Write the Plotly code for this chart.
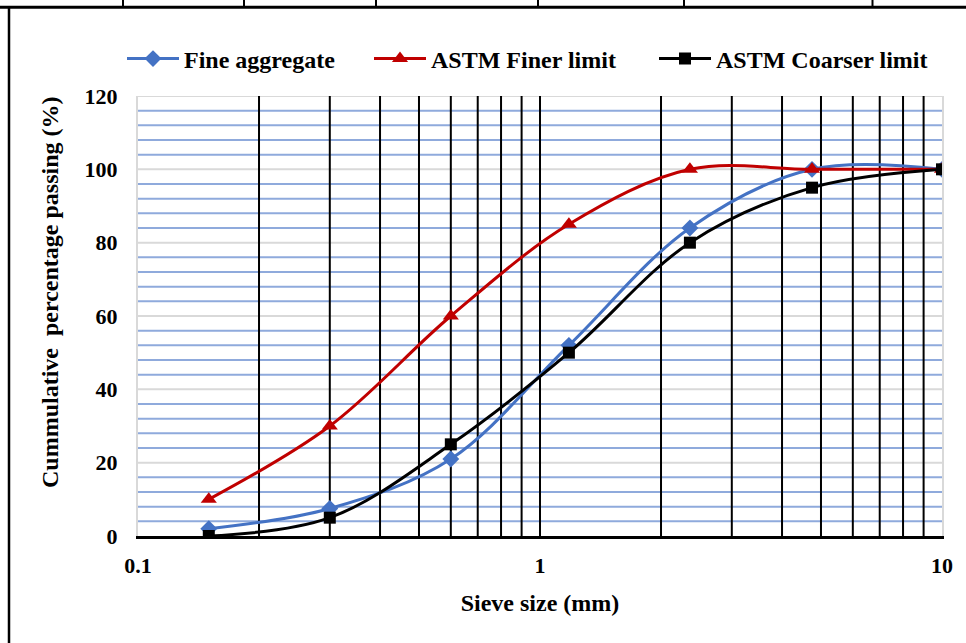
import math
import plotly.graph_objects as go

sieve_mm = [0.15, 0.3, 0.6, 1.18, 2.36, 4.75, 10]
fine_aggregate = [2, 7.5, 21, 52, 84, 100, 100]
astm_finer = [10, 30, 60, 85, 100, 100, 100]
astm_coarser = [0, 5, 25, 50, 80, 95, 100]

x_ticks = [0.1, 1, 10]
x_tick_labels = ["0.1", "1", "10"]
x_grid_values = [0.2, 0.3, 0.4, 0.5, 0.6, 0.7, 0.8, 0.9, 1, 2, 3, 4, 5, 6, 7, 8, 9]
y_major = list(range(0, 121, 20))
y_minor = [v for v in range(4, 120, 4) if v % 20 != 0]

FONT = "Liberation Serif"
W, H = 966, 643
ML, MT = 138, 96
PW, PH = 804, 440
MR, MB = W - ML - PW, H - MT - PH


def px(x):
    return (x - ML) / PW


def py(y):
    return (MT + PH - y) / PH


fig = go.Figure()
fig.add_trace(go.Scatter(
    x=sieve_mm, y=fine_aggregate, name="Fine aggregate", mode="lines+markers",
    line=dict(color="#4472C4", width=3, shape="spline", smoothing=1),
    marker=dict(symbol="diamond", size=13, color="#4472C4"), legend="legend",
    showlegend=True))
fig.add_trace(go.Scatter(
    x=sieve_mm, y=astm_finer, name="ASTM Finer limit", mode="lines+markers",
    line=dict(color="#C00000", width=3, shape="spline", smoothing=1),
    marker=dict(symbol="triangle-up", size=14, color="#C00000"), legend="legend2",
    showlegend=True))
fig.add_trace(go.Scatter(
    x=sieve_mm, y=astm_coarser, name="ASTM Coarser limit", mode="lines+markers",
    line=dict(color="black", width=3, shape="spline", smoothing=1),
    marker=dict(symbol="square", size=12, color="black"), legend="legend3",
    showlegend=True))

legend_common = dict(orientation="h", yanchor="middle", xanchor="left",
                     font=dict(family=FONT, size=24, color="black", weight="bold"),
                     bgcolor="rgba(0,0,0,0)", itemwidth=52, visible=True)

shapes = []
# horizontal gridlines: blue minor, grey major
for v in y_minor:
    shapes.append(dict(type="line", xref="x domain", yref="y", x0=0, x1=1, y0=v, y1=v,
                       line=dict(color="#8FAADC", width=2), layer="below"))
for v in y_major[1:]:
    shapes.append(dict(type="line", xref="x domain", yref="y", x0=0, x1=1, y0=v, y1=v,
                       line=dict(color="#D9D9D9", width=2), layer="below"))
# black vertical gridlines on top of horizontal ones
for v in x_grid_values:
    d = (math.log10(v) + 1) / 2
    shapes.append(dict(type="line", xref="x domain", yref="y domain", x0=d, x1=d,
                       y0=0, y1=1, line=dict(color="black", width=2), layer="below"))
# surrounding document frame
shapes.append(dict(type="line", xref="paper", yref="paper", x0=px(0), x1=px(966),
                   y0=py(7.2), y1=py(7.2), line=dict(color="black", width=3)))
shapes.append(dict(type="line", xref="paper", yref="paper", x0=px(9), x1=px(9),
                   y0=py(7), y1=py(643), line=dict(color="black", width=2.5)))
for xv in [123, 244, 376, 538, 684, 872.5]:
    shapes.append(dict(type="line", xref="paper", yref="paper", x0=px(xv), x1=px(xv),
                       y0=py(0), y1=py(7), line=dict(color="black", width=2)))

annotations = [dict(
    text="Cummulative\u00a0 percentage passing (%)", xref="paper", yref="paper",
    x=px(50), y=py(292), textangle=-90, showarrow=False,
    xanchor="center", yanchor="middle",
    font=dict(family=FONT, size=24, color="black", weight="bold"))]

fig.update_layout(
    width=W, height=H,
    margin=dict(l=ML, r=MR, t=MT, b=MB, pad=0),
    paper_bgcolor="white", plot_bgcolor="white",
    font=dict(family=FONT, color="black"),
    showlegend=True,
    legend=dict(x=px(122), y=py(59), **legend_common),
    legend2=dict(x=px(369), y=py(59), **legend_common),
    legend3=dict(x=px(654), y=py(59), **legend_common),
    shapes=shapes,
    annotations=annotations,
    xaxis=dict(
        type="log", range=[-1, 1], tickmode="array", tickvals=x_ticks,
        ticktext=x_tick_labels, showgrid=False, ticks="",
        tickfont=dict(family=FONT, size=22, color="black", weight="bold"),
        ticklabelstandoff=8,
        showline=True, linecolor="black", linewidth=2.5, zeroline=False,
        title=dict(text="Sieve size (mm)", standoff=18,
                   font=dict(family=FONT, size=24, color="black", weight="bold")),
    ),
    yaxis=dict(
        range=[0, 120], dtick=20, showgrid=False,
        ticks="", tickfont=dict(family=FONT, size=22, color="black", weight="bold"),
        ticklabelstandoff=14,
        showline=True, linecolor="#D9D9D9", linewidth=2, mirror=True, zeroline=False,
    ),
)

fig.write_html("out.html", config={"displayModeBar": False},
               post_script="document.body.style.margin='0';")
